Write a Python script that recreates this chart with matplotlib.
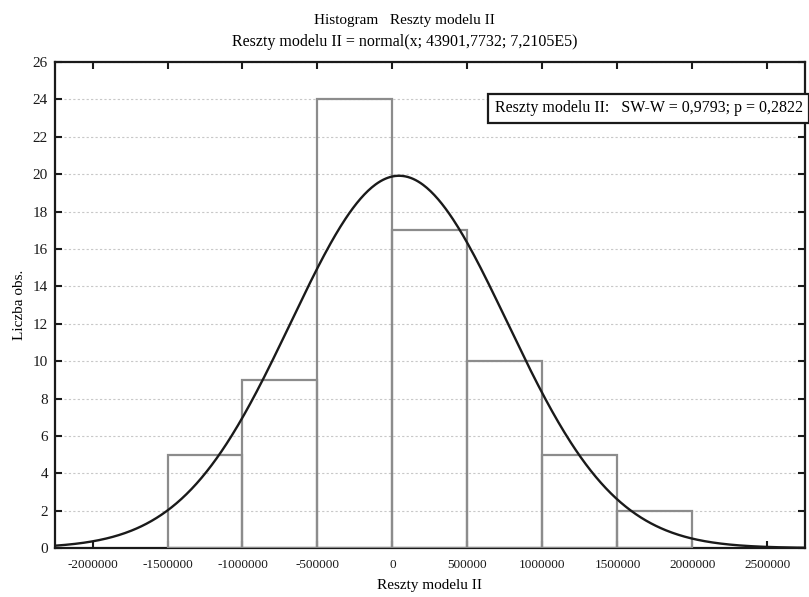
import numpy as np
import matplotlib
matplotlib.use("Agg")
import matplotlib.pyplot as plt

# ── dane ──────────────────────────────────────────────
bin_edges = [-1500000, -1000000, -500000, 0, 500000, 1000000, 1500000, 2000000]
counts = [5, 9, 24, 17, 10, 5, 2]
mean = 43901.7732
sd = 7.2105e5
n_obs = sum(counts)
x_ticks = [-2000000, -1500000, -1000000, -500000, 0, 500000,
           1000000, 1500000, 2000000, 2500000]
y_ticks = list(range(0, 27, 2))

plt.rcParams["font.family"] = ["Liberation Serif", "DejaVu Serif"]

fig = plt.figure(figsize=(8.09, 5.97), dpi=100)
ax = fig.add_axes([0.068, 0.082, 0.927, 0.814])

# histogram
widths = np.diff(bin_edges)
ax.bar(bin_edges[:-1], counts, width=widths, align="edge",
       facecolor="none", edgecolor="#8c8c8c", linewidth=1.6, zorder=3)

# krzywa normalna (oczekiwana liczba obs.)
xs = np.linspace(-2250000, 2750000, 600)
bw = widths[0]
ys = n_obs * bw * np.exp(-0.5 * ((xs - mean) / sd) ** 2) / (sd * np.sqrt(2 * np.pi))
ax.plot(xs, ys, color="#1a1a1a", linewidth=1.7, zorder=4)

ax.set_xlim(-2250000, 2750000)
ax.set_ylim(0, 26)
ax.set_xticks(x_ticks)
ax.set_xticklabels([str(t) for t in x_ticks], fontsize=9.5)
ax.set_yticks(y_ticks)
ax.set_yticklabels([str(t) for t in y_ticks], fontsize=11)
ax.tick_params(direction="in", length=5, width=1.5, top=True, right=True,
               colors="#1a1a1a", pad=5)
ax.tick_params(axis="x", pad=8)
for s in ax.spines.values():
    s.set_linewidth(1.6)
    s.set_color("#1a1a1a")

ax.yaxis.grid(True, linestyle=(0, (2, 2)), color="#c8c8c8", linewidth=0.8, zorder=0)
ax.set_axisbelow(True)

ax.set_xlabel("Reszty modelu II", fontsize=11, labelpad=6)
ax.set_ylabel("Liczba obs.", fontsize=11, labelpad=5)

fig.text(0.5, 0.965, "Histogram   Reszty modelu II", ha="center", va="center", fontsize=11)
fig.text(0.5, 0.929, "Reszty modelu II = normal(x; 43901,7732; 7,2105E5)",
         ha="center", va="center", fontsize=11.5)

# ramka z testem Shapiro-Wilka
ax.text(0.997, 0.905, "Reszty modelu II:   SW-W = 0,9793; p = 0,2822",
        transform=ax.transAxes, ha="right", va="center", fontsize=11.5,
        bbox=dict(boxstyle="square,pad=0.4", facecolor="white",
                  edgecolor="#1a1a1a", linewidth=1.6), zorder=6, clip_on=False)

fig.savefig("out.png", dpi=100, facecolor="white")
